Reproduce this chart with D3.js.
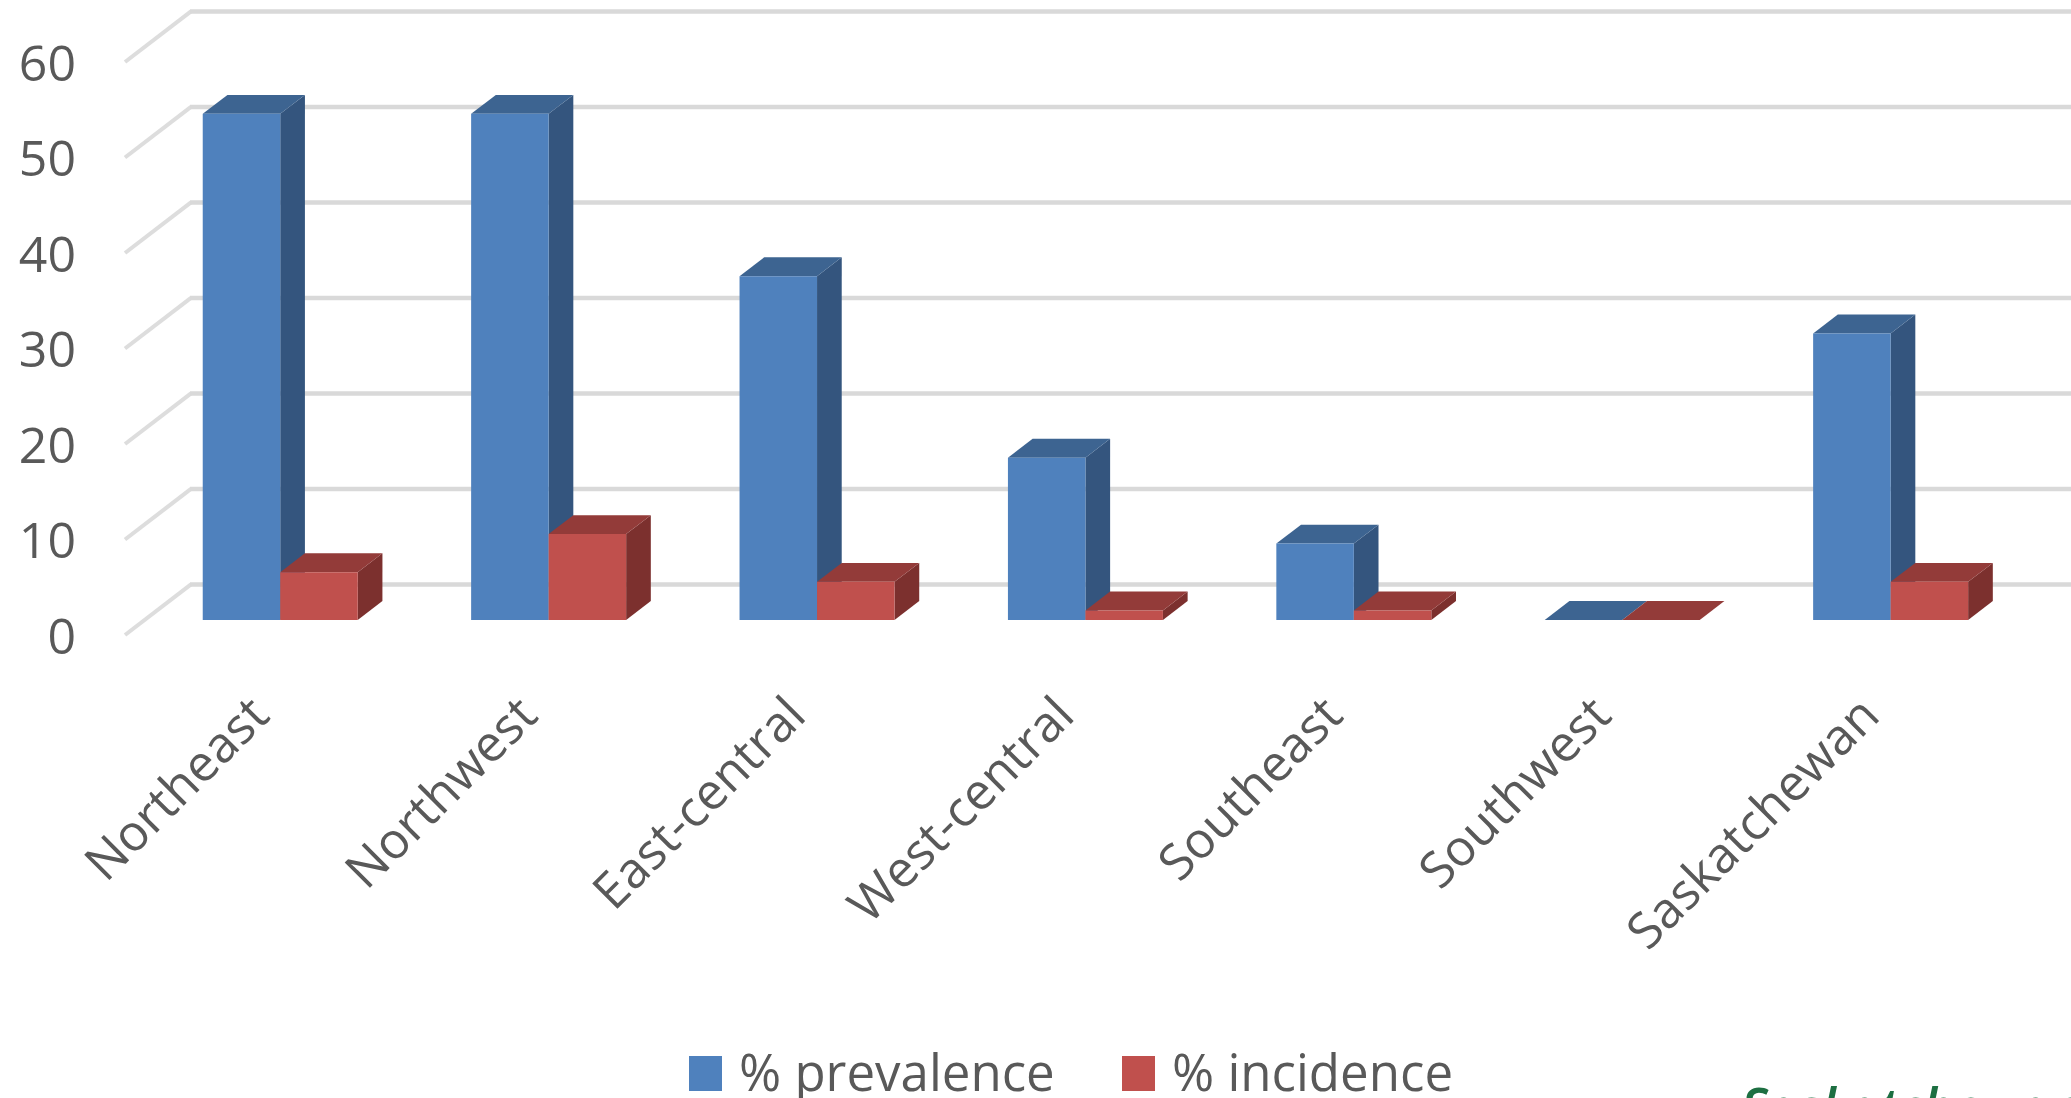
<!DOCTYPE html>
<html>
<head>
<meta charset="utf-8">
<script src="https://cdn.jsdelivr.net/npm/d3@7"></script>
<style>
  html, body { margin: 0; padding: 0; background: #ffffff; overflow: hidden; }
  svg { display: block; }
  text { font-family: "Open Sans", "Noto Sans", sans-serif; }
</style>
</head>
<body>
<svg id="chart" width="2071" height="1098"></svg>
<script>
// ---- data ----
const categories = ["Northeast", "Northwest", "East-central", "West-central", "Southeast", "Southwest", "Saskatchewan"];
const prevalence = [53, 53, 36, 17, 8, 0, 30];
const incidence  = [5, 9, 4, 1, 1, 0, 4];
const seriesNames = ["% prevalence", "% incidence"];
const yTicks = [0, 10, 20, 30, 40, 50, 60];

// ---- styles ----
const faceColors = [
  { front: "#4F81BD", side: "#34557E", top: "#3D6491" },
  { front: "#C0504D", side: "#7C302E", top: "#933B39" }
];
const textColor = "#595959";
const gridColor = "#D9D9D9";

// ---- geometry ----
const W = 2071, H = 1098;
const svg = d3.select("#chart");

const floorFrontY = 635;             // y of value 0 at the front edge
const depthVec = [66, -50.6];        // offset from front edge to back wall
const barD0 = 0.296, barD1 = 0.67;   // bar depth position (fraction of floor depth)

const y = d3.scaleLinear().domain([0, 60]).range([floorFrontY, 62]);

const x0 = 126.5, step = 268.4;
const x = d3.scaleBand()
  .domain(categories)
  .range([x0, x0 + step * categories.length])
  .paddingInner(0.4225)
  .paddingOuter(0.21125);

const xs = d3.scaleBand()
  .domain(seriesNames)
  .range([0, x.bandwidth()])
  .padding(0);

function proj(px, v, d) {
  return [px + depthVec[0] * d, y(v) + depthVec[1] * d];
}

// ---- back wall gridlines + side wall lines ----
const grid = svg.append("g");
yTicks.forEach(v => {
  const b = proj(x0 - 1.5, v, 1);
  const f = proj(x0 - 1.5, v, 0);
  grid.append("line")
    .attr("x1", f[0]).attr("y1", f[1])
    .attr("x2", b[0]).attr("y2", b[1])
    .attr("stroke", "#DDDDDD").attr("stroke-width", 4);
  grid.append("line")
    .attr("x1", b[0] - 1).attr("y1", b[1])
    .attr("x2", W).attr("y2", b[1])
    .attr("stroke", gridColor).attr("stroke-width", 4.5);
});

// ---- y tick labels via axis ----
const yAxis = d3.axisLeft(y).tickValues(yTicks).tickSize(0).tickPadding(0);
const yg = svg.append("g").attr("transform", "translate(76,2)").call(yAxis);
yg.select(".domain").remove();
yg.selectAll("text")
  .attr("fill", textColor)
  .style("font-size", "50px")
  .style("font-family", "'Open Sans', sans-serif");

// ---- bars ----
const barsData = [];
categories.forEach((c, i) => {
  [prevalence[i], incidence[i]].forEach((v, s) => {
    barsData.push({ cat: c, series: seriesNames[s], s: s, value: v });
  });
});

const pts = arr => arr.map(p => p.join(",")).join(" ");

const bars = svg.append("g").selectAll("g.bar")
  .data(barsData)
  .join("g")
  .attr("class", "bar");

bars.each(function(d) {
  const g = d3.select(this);
  const xl = x(d.cat) + xs(d.series);
  const xr = xl + xs.bandwidth();
  const col = faceColors[d.s];
  const fbl = proj(xl, 0, barD0), fbr = proj(xr, 0, barD0);
  const ftl = proj(xl, d.value, barD0), ftr = proj(xr, d.value, barD0);
  const btl = proj(xl, d.value, barD1), btr = proj(xr, d.value, barD1);
  const bbr = proj(xr, 0, barD1);
  // side face
  g.append("polygon").attr("points", pts([fbr, ftr, btr, bbr])).attr("fill", col.side);
  // top face
  g.append("polygon").attr("points", pts([ftl, ftr, btr, btl])).attr("fill", col.top);
  // front face
  g.append("polygon").attr("points", pts([fbl, fbr, ftr, ftl])).attr("fill", col.front);
});

// ---- category labels via axis ----
const xAxis = d3.axisBottom(x).tickSize(0).tickPadding(0);
const xg = svg.append("g").attr("transform", "translate(10.8,718)").call(xAxis);
xg.select(".domain").remove();
xg.selectAll("text")
  .attr("x", 0).attr("y", 0).attr("dy", 0)
  .attr("transform", "rotate(-45)")
  .style("text-anchor", "end")
  .attr("fill", textColor)
  .style("font-size", "50px")
  .style("font-family", "'Open Sans', sans-serif");

// ---- legend ----
const legendPos = [{ sx: 689, tx: 739 }, { sx: 1122, tx: 1172 }];
const legend = svg.append("g");
seriesNames.forEach((n, i) => {
  legend.append("rect")
    .attr("x", legendPos[i].sx).attr("y", 1056)
    .attr("width", 33).attr("height", 35)
    .attr("fill", faceColors[i].front);
  legend.append("text")
    .attr("x", legendPos[i].tx).attr("y", 1091)
    .attr("fill", textColor)
    .style("font-size", "51px")
    .text(n);
});

// ---- partially visible footer logo text ----
svg.append("text")
  .attr("x", 1741).attr("y", 1126)
  .attr("fill", "#1d6f42")
  .style("font-size", "52px")
  .style("font-style", "italic")
  .style("font-weight", 600)
  .text("Saskatchewan");
</script>
</body>
</html>
